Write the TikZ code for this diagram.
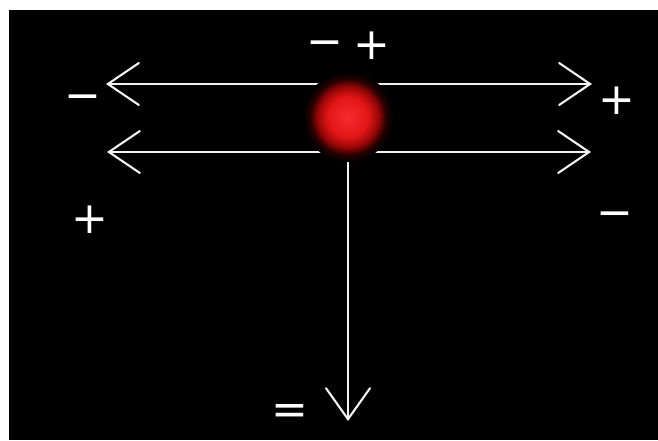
\documentclass[tikz,border=0pt]{standalone}
\usepackage{fontspec}
\setmainfont{DejaVu Sans}
\usetikzlibrary{arrows.meta}
\pgfdeclareradialshading{redglow}{\pgfpoint{0bp}{0bp}}{%
  color(0bp)=(rgb,255:red,245;green,45;blue,45);
  color(11bp)=(rgb,255:red,228;green,22;blue,22);
  color(17bp)=(rgb,255:red,150;green,6;blue,6);
  color(21bp)=(rgb,255:red,40;green,0;blue,0);
  color(25bp)=(black);
  color(50bp)=(black)}
\begin{document}
\begin{tikzpicture}[x=1pt,y=-1pt,
  wire/.style={draw=white!90!gray, line width=2.1pt, line cap=round},
  barbh/.style={wire, {Straight Barb[length=31pt,width=42pt,line cap=round]}-{Straight Barb[length=31pt,width=42pt,line cap=round]}},
  barbv/.style={wire, -{Straight Barb[length=31pt,width=44pt,line cap=round]}},
  sign/.style={text=white, font=\fontsize{44}{48}\selectfont, inner sep=0pt, anchor=center}]
  \useasboundingbox (0,0) rectangle (658,440);
  \fill[white] (0,0) rectangle (658,440);
  \fill[black] (9,10) rectangle (658,440);
  % endpoints
  \coordinate (L1) at (106,84);
  \coordinate (R1) at (592,84);
  \coordinate (L2) at (107,152);
  \coordinate (R2) at (591,152);
  \coordinate (C) at (348,117);
  \coordinate (D) at (348,421);
  % arrows
  \draw[barbh] (L1) -- (R1);
  \draw[barbh] (L2) -- (R2);
  \draw[barbv] (C) -- (D);
  % charge
  \node[circle, minimum size=90pt, inner sep=0pt, shading=redglow] (ball) at (C) {};
  % labels
  \node[sign] (mL) at (83,103) {−};
  \node[sign] (pL) at (90,220) {+};
  \node[sign] (mT) at (325,49) {−};
  \node[sign] (pT) at (372,46) {+};
  \node[sign] (pR) at (617,101) {+};
  \node[sign] (mR) at (615,220) {−};
  \node[sign] (eq) at (290,414) {=};
\end{tikzpicture}
\end{document}
